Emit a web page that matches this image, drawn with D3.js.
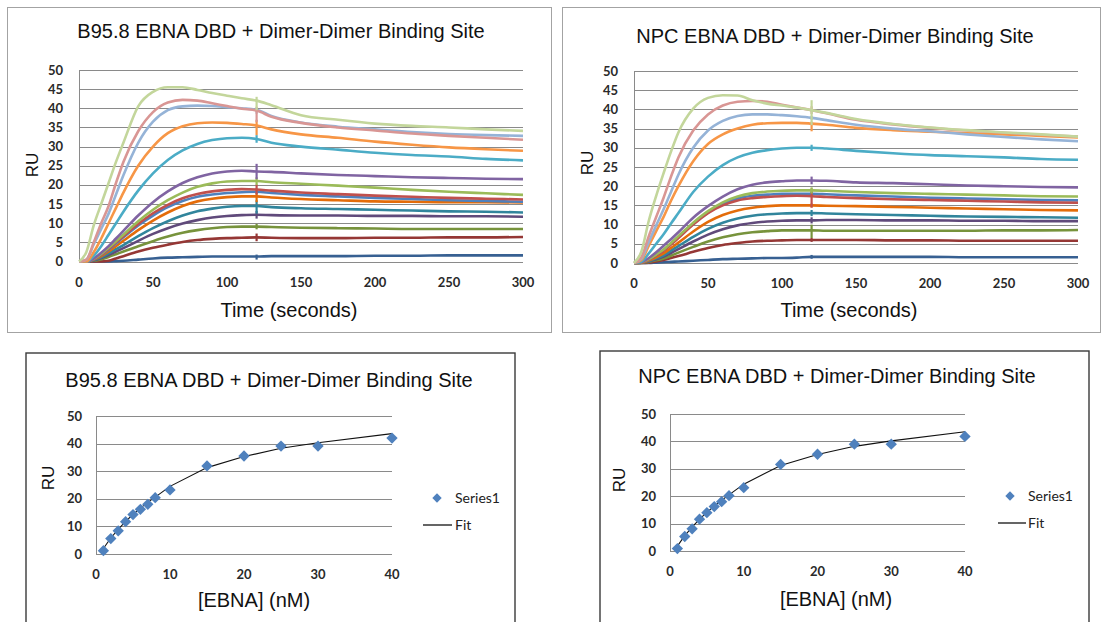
<!DOCTYPE html>
<html>
<head>
<meta charset="utf-8">
<script src="https://cdn.jsdelivr.net/npm/d3@7"></script>
<style>
  body { margin: 0; background: #fff; }
  svg { display: block; }
  .tick-label { font-family: Lato, "Open Sans", sans-serif; font-size: 13px; font-weight: bold; fill: #2a2a2a; }
  .title, .axis-label { font-family: "Liberation Sans", Arial, sans-serif; font-size: 20px; fill: #111; }
  .ru-label { font-family: "Liberation Sans", Arial, sans-serif; font-size: 17px; fill: #111; }
  .legend-text { font-family: Lato, "Open Sans", sans-serif; font-size: 14px; fill: #222; }
</style>
</head>
<body>
<svg id="chart" width="1104" height="622"></svg>
<script>
//data - sensorgram time points (seconds)
const times = [0, 5, 10, 15, 20, 25, 30, 40, 50, 60, 70, 80, 90, 100, 110, 120, 130, 150, 175, 200, 225, 250, 275, 300];

//series colours, lowest curve first
const seriesColors = ["#376092", "#953735", "#77933C", "#604A7B", "#31859C", "#E46C0A",
                      "#4F81BD", "#C0504D", "#9BBB59", "#8064A2", "#4BACC6", "#F79646",
                      "#95B3D7", "#D99694", "#C3D69B"];

//B95.8 RU values at each time point (same order as colours)
const b958Series = [
  [0, 0, 0, 0, 0, 0.1, 0.2, 0.5, 0.8, 1, 1.1, 1.2, 1.3, 1.3, 1.3, 1.3, 1.4, 1.4, 1.4, 1.5, 1.5, 1.6, 1.6, 1.6],
  [0, 0, 0, 0, 0.2, 0.8, 1.4, 2.6, 3.6, 4.4, 5.1, 5.6, 5.9, 6.1, 6.2, 6.3, 6.2, 6.1, 6.1, 6.2, 6.2, 6.3, 6.3, 6.4],
  [0, 0, 0.2, 0.6, 1.2, 1.9, 2.6, 4, 5.3, 6.5, 7.5, 8.2, 8.7, 9, 9.1, 9.1, 9, 8.8, 8.7, 8.6, 8.5, 8.5, 8.5, 8.5],
  [0, 0, 0.3, 0.9, 1.7, 2.6, 3.5, 5.4, 7.2, 8.7, 9.9, 10.8, 11.5, 11.9, 12.1, 12.2, 12.1, 12, 12, 11.9, 11.9, 11.8, 11.8, 11.7],
  [0, 0, 0.4, 1.1, 2.1, 3.2, 4.3, 6.6, 8.7, 10.5, 12, 13.1, 13.8, 14.3, 14.5, 14.5, 14.2, 13.9, 13.7, 13.5, 13.3, 13.1, 13, 12.8],
  [0, 0, 0.5, 1.4, 2.6, 4, 5.4, 8.2, 10.7, 12.8, 14.5, 15.7, 16.4, 16.8, 17, 17, 16.7, 16.3, 16, 15.7, 15.6, 15.5, 15.5, 15.4],
  [0, 0, 0.6, 1.7, 3.1, 4.7, 6.3, 9.4, 12, 14.2, 15.8, 16.9, 17.5, 17.9, 18.1, 18.2, 17.9, 17.4, 17, 16.6, 16.3, 16, 15.8, 15.6],
  [0, 0, 0.6, 1.8, 3.3, 5, 6.6, 9.8, 12.6, 14.8, 16.5, 17.6, 18.3, 18.7, 18.9, 18.8, 18.5, 18, 17.6, 17.2, 16.9, 16.6, 16.4, 16.2],
  [0, 0, 0.7, 2, 3.6, 5.3, 7, 10.5, 13.5, 16, 18, 19.5, 20.4, 20.9, 21, 21, 20.7, 20.3, 19.8, 19.3, 18.7, 18.2, 17.8, 17.4],
  [0, 0, 0.8, 2.3, 4, 6, 8, 12, 15.5, 18.3, 20.5, 22, 23, 23.5, 23.7, 23.5, 23.4, 23, 22.6, 22.3, 22, 21.8, 21.6, 21.5],
  [0, 0, 1.5, 4, 7, 10, 13, 18.5, 23, 26.5, 29, 30.7, 31.7, 32.2, 32.3, 32, 31, 30, 29.2, 28.4, 27.8, 27.4, 26.8, 26.4],
  [0, 0, 2.5, 6, 10, 14, 18, 25, 30, 33.5, 35.3, 36.1, 36.3, 36.2, 35.9, 35.5, 34.5, 33.2, 32.3, 31.3, 30.5, 29.8, 29.3, 28.9],
  [0, 0.5, 4.5, 8.5, 12.5, 17.5, 22.5, 31, 36.5, 39.5, 40.5, 40.7, 40.6, 40.3, 40, 39.6, 38, 36.3, 35.2, 34.5, 33.8, 33.3, 33, 32.8],
  [0, 0.5, 5, 10, 14.5, 20.5, 26, 34, 39, 41.5, 42.2, 42, 41.3, 40.6, 39.9, 39.4, 37.8, 36.2, 35, 34.2, 33.4, 32.8, 32.3, 31.8],
  [0, 2.5, 9.5, 15, 20.5, 26, 31, 40.5, 44.3, 45.5, 45.5, 44.8, 44, 43.3, 42.6, 42, 40.8, 38.2, 37, 36, 35.4, 35, 34.5, 34.1]
];
//injection-end spike at 120 s: [up, down] in RU
const b958Spikes = [[0.5, 0.8], [1, 1], [0.7, 0.7], [1, 1], [1.5, 2], [1, 1.5], [0.5, 0.5], [1.3, 1.3],
                    [1, 1], [2, 2], [1, 1], [1.5, 2.5], [0.5, 1], [1, 3], [1, 2.5]];

//NPC RU values at each time point
const npcSeries = [
  [0, 0, 0, 0.1, 0.2, 0.3, 0.4, 0.6, 0.8, 1, 1.1, 1.2, 1.3, 1.3, 1.4, 1.6, 1.6, 1.6, 1.6, 1.6, 1.5, 1.5, 1.5, 1.5],
  [0, 0, 0.1, 0.4, 0.8, 1.3, 1.8, 2.9, 3.9, 4.7, 5.2, 5.6, 5.8, 5.9, 6, 6, 6, 6, 5.9, 5.9, 5.8, 5.8, 5.8, 5.8],
  [0, 0, 0.3, 0.7, 1.2, 1.9, 2.7, 4.2, 5.6, 6.7, 7.5, 8, 8.3, 8.5, 8.5, 8.5, 8.4, 8.4, 8.4, 8.4, 8.4, 8.5, 8.5, 8.6],
  [0, 0.1, 0.4, 1, 1.7, 2.6, 3.6, 5.6, 7.4, 8.8, 9.8, 10.4, 10.8, 11, 11.1, 11.1, 11.2, 11.2, 11.1, 11.1, 11, 11, 10.9, 10.9],
  [0, 0.1, 0.5, 1.2, 2, 3.2, 4.4, 6.8, 8.9, 10.5, 11.6, 12.3, 12.7, 12.9, 13, 13, 12.9, 12.7, 12.5, 12.3, 12.1, 12, 11.9, 11.8],
  [0, 0.1, 0.7, 1.5, 2.5, 3.9, 5.3, 8.2, 10.7, 12.5, 13.7, 14.4, 14.8, 15, 15, 15, 14.9, 14.8, 14.6, 14.4, 14.2, 14, 13.8, 13.7],
  [0, 0.2, 0.9, 2, 3.3, 5, 6.7, 10.2, 13.2, 15.4, 16.8, 17.5, 17.8, 18, 18, 18, 17.9, 17.6, 17.3, 17, 16.8, 16.6, 16.4, 16.3],
  [0, 0.2, 0.9, 2, 3.2, 4.8, 6.5, 10, 13, 15, 16.3, 16.9, 17.2, 17.4, 17.5, 17.4, 17.2, 16.9, 16.6, 16.4, 16.2, 16, 15.8, 15.7],
  [0, 0.2, 1, 2.2, 3.5, 5.2, 7, 10.5, 13.5, 15.8, 17.3, 18.2, 18.6, 18.8, 18.9, 18.9, 18.8, 18.5, 18.2, 18, 17.8, 17.6, 17.4, 17.3],
  [0, 0.2, 1.3, 2.8, 4.5, 6.2, 8, 11.8, 14.8, 17.3, 19.2, 20.4, 21, 21.3, 21.5, 21.5, 21.4, 21, 20.8, 20.5, 20.2, 20, 19.8, 19.7],
  [0, 0.4, 2.5, 5, 7.5, 10.3, 13, 18.5, 22.5, 25.5, 27.5, 28.7, 29.4, 29.8, 30, 30, 29.8, 29.2, 28.6, 28.1, 27.8, 27.5, 27.1, 26.9],
  [0, 0.8, 4.5, 8.3, 12, 16.2, 20, 26.5, 31, 33.5, 35, 36, 36.4, 36.5, 36.5, 36.3, 36, 35.2, 34.6, 34.2, 33.8, 33.5, 33.1, 32.7],
  [0, 1.2, 5.5, 9.8, 14, 18.5, 23, 30, 34.5, 37, 38.3, 38.7, 38.7, 38.5, 38.2, 37.8, 37.2, 36, 35, 34.3, 33.5, 32.8, 32.2, 31.7],
  [0, 1.5, 7, 12, 17, 22.5, 27.5, 34.5, 38.7, 41, 42, 42.2, 42, 41.2, 40.5, 39.8, 39, 37.3, 36.1, 35.2, 34.5, 33.9, 33.4, 32.9],
  [0, 3, 11, 17.5, 23.4, 29, 34, 40.2, 43, 43.7, 43.6, 42.4, 41.5, 41, 40.5, 39.8, 39.1, 37.5, 36.2, 35.3, 34.6, 34, 33.5, 32.9]
];
const npcSpikes = [[0.5, 0.5], [0.5, 0.5], [1.5, 2], [0.8, 0.8], [0.8, 0.8], [0.5, 0.5], [0.5, 0.5], [2, 3],
                   [0.8, 0.8], [1, 1], [0.8, 0.8], [0.5, 2], [0.5, 0.5], [1, 1], [2.6, 3.9]];

//binding isotherm data
const conc = [1, 2, 3, 4, 5, 6, 7, 8, 10, 15, 20, 25, 30, 40];
const b958RU = [1.2, 5.6, 8.4, 11.7, 14.3, 16.2, 18, 20.4, 23.2, 31.9, 35.5, 39.1, 39.1, 42];
const b958Fit = [2, 5.8, 8.9, 11.8, 14.3, 16.6, 18.7, 20.6, 24.5, 31.3, 35.3, 38.3, 40.3, 43.6];
const npcRU = [0.9, 5.3, 8.1, 11.6, 14, 16.2, 18, 20.2, 23.1, 31.6, 35.3, 39, 39, 41.8];
const npcFit = [1.8, 5.6, 8.7, 11.6, 14.1, 16.4, 18.5, 20.5, 24.4, 31.2, 35.2, 38.2, 40.2, 43.5];

//tick labels
const timeTicks = [0, 50, 100, 150, 200, 250, 300];
const sensorRUTicks = [0, 5, 10, 15, 20, 25, 30, 35, 40, 45, 50];
const concTicks = [0, 10, 20, 30, 40];
const bindRUTicks = [0, 10, 20, 30, 40, 50];

const svg = d3.select("#chart");

//draws a panel border
function frame(box, color, width) {
  svg.append("rect")
    .attr("x", box.x).attr("y", box.y)
    .attr("width", box.w).attr("height", box.h)
    .attr("fill", "#fff")
    .attr("stroke", color)
    .attr("stroke-width", width);
}

//gridlines, axis line and tick labels
function axes(g, xScale, yScale, xTicks, yTicks, yGap, xGap) {
  g.selectAll(".grid")
    .data(yTicks)
    .enter().append("line")
    .attr("class", "grid")
    .attr("x1", xScale.range()[0]).attr("x2", xScale.range()[1])
    .attr("y1", d => Math.round(yScale(d)) + 0.5)
    .attr("y2", d => Math.round(yScale(d)) + 0.5)
    .attr("stroke", "#8a8a8a").attr("stroke-width", 1);

  g.append("line")
    .attr("x1", Math.round(xScale.range()[0]) + 0.5).attr("x2", Math.round(xScale.range()[0]) + 0.5)
    .attr("y1", yScale.range()[0]).attr("y2", yScale.range()[1])
    .attr("stroke", "#8a8a8a").attr("stroke-width", 1);

  g.selectAll(".ylab")
    .data(yTicks)
    .enter().append("text")
    .attr("class", "tick-label")
    .attr("x", xScale.range()[0] - yGap)
    .attr("y", d => yScale(d) + 4.5)
    .attr("text-anchor", "end")
    .text(d => d);

  g.selectAll(".xlab")
    .data(xTicks)
    .enter().append("text")
    .attr("class", "tick-label")
    .attr("x", d => xScale(d))
    .attr("y", yScale.range()[0] + xGap)
    .attr("text-anchor", "middle")
    .text(d => d);
}

function labels(p) {
  svg.append("text").attr("class", "title")
    .attr("x", p.titleX).attr("y", p.titleY)
    .attr("text-anchor", "middle")
    .text(p.title);
  svg.append("text").attr("class", "axis-label")
    .attr("x", p.xLabelX).attr("y", p.xLabelY)
    .attr("text-anchor", "middle")
    .text(p.xLabel);
  svg.append("text").attr("class", "ru-label")
    .attr("transform", "translate(" + p.ruX + "," + p.ruY + ") rotate(-90)")
    .attr("text-anchor", "middle")
    .text("RU");
}

//sensorgram panel
function sensorgram(p, series, spikes) {
  frame(p.box, "#a3a3a3", 1);
  labels(p);

  const x = d3.scaleLinear().domain([0, 300]).range([p.left, p.right]);
  const y = d3.scaleLinear().domain([0, 50]).range([p.bottom, p.top]);

  const g = svg.append("g");
  axes(g, x, y, timeTicks, sensorRUTicks, 16, 25);

  const line = d3.line()
    .x(d => x(d[0]))
    .y(d => y(d[1]))
    .curve(d3.curveMonotoneX);

  const i120 = times.indexOf(120);

  series.forEach((vals, i) => {
    const pts = times.map((t, j) => [t, vals[j]]);
    g.append("path")
      .attr("d", line(pts))
      .attr("fill", "none")
      .attr("stroke", seriesColors[i])
      .attr("stroke-width", 2.6)
      .attr("stroke-linejoin", "round");

    //spike at end of injection
    g.append("line")
      .attr("x1", x(120)).attr("x2", x(120))
      .attr("y1", y(vals[i120] + spikes[i][0]))
      .attr("y2", y(vals[i120] - spikes[i][1]))
      .attr("stroke", seriesColors[i])
      .attr("stroke-width", 2.2);
  });
}

//binding isotherm panel
function isotherm(p, ru, fit) {
  frame(p.box, "#3a3a3a", 1.4);
  labels(p);

  const x = d3.scaleLinear().domain([0, 40]).range([p.left, p.right]);
  const y = d3.scaleLinear().domain([0, 50]).range([p.bottom, p.top]);

  const g = svg.append("g");
  axes(g, x, y, concTicks, bindRUTicks, 14, 25);

  g.append("path")
    .datum(conc.map((c, i) => [c, fit[i]]))
    .attr("d", d3.line().x(d => x(d[0])).y(d => y(d[1])))
    .attr("fill", "none")
    .attr("stroke", "#111")
    .attr("stroke-width", 1.1);

  const diamond = d3.symbol().type(d3.symbolSquare).size(64);
  g.selectAll(".pt")
    .data(conc.map((c, i) => [c, ru[i]]))
    .enter().append("path")
    .attr("d", diamond)
    .attr("transform", d => "translate(" + x(d[0]) + "," + y(d[1]) + ") rotate(45)")
    .attr("fill", "#4F81BD");

  //legend
  g.append("path")
    .attr("d", d3.symbol().type(d3.symbolSquare).size(44))
    .attr("transform", "translate(" + p.legX + "," + p.legY + ") rotate(45)")
    .attr("fill", "#4F81BD");
  g.append("text").attr("class", "legend-text")
    .attr("x", p.legTextX).attr("y", p.legY + 5)
    .text("Series1");
  g.append("line")
    .attr("x1", p.fitX1).attr("x2", p.fitX2)
    .attr("y1", p.legY + 27).attr("y2", p.legY + 27)
    .attr("stroke", "#111").attr("stroke-width", 1.3);
  g.append("text").attr("class", "legend-text")
    .attr("x", p.legTextX).attr("y", p.legY + 32)
    .text("Fit");
}

sensorgram({
  box: {x: 7.5, y: 7.5, w: 544, h: 325},
  left: 79, right: 523, top: 70, bottom: 261.5,
  title: "B95.8 EBNA DBD + Dimer-Dimer Binding Site", titleX: 281, titleY: 38,
  xLabel: "Time (seconds)", xLabelX: 289, xLabelY: 317,
  ruX: 38, ruY: 165
}, b958Series, b958Spikes);

sensorgram({
  box: {x: 562.5, y: 7.5, w: 538, h: 325},
  left: 634, right: 1078, top: 71, bottom: 263,
  title: "NPC EBNA DBD + Dimer-Dimer Binding Site", titleX: 835, titleY: 43,
  xLabel: "Time (seconds)", xLabelX: 849, xLabelY: 317,
  ruX: 593, ruY: 163
}, npcSeries, npcSpikes);

isotherm({
  box: {x: 26, y: 353, w: 489, h: 275},
  left: 96, right: 392, top: 416, bottom: 554,
  title: "B95.8 EBNA DBD + Dimer-Dimer Binding Site", titleX: 269, titleY: 387,
  xLabel: "[EBNA] (nM)", xLabelX: 254, xLabelY: 607,
  ruX: 54, ruY: 478,
  legX: 437, legY: 498, legTextX: 455, fitX1: 423, fitX2: 452
}, b958RU, b958Fit);

isotherm({
  box: {x: 600, y: 351, w: 489, h: 277},
  left: 670, right: 965, top: 414, bottom: 551,
  title: "NPC EBNA DBD + Dimer-Dimer Binding Site", titleX: 837, titleY: 383,
  xLabel: "[EBNA] (nM)", xLabelX: 836, xLabelY: 606,
  ruX: 625, ruY: 480,
  legX: 1010, legY: 496, legTextX: 1028, fitX1: 998, fitX2: 1026
}, npcRU, npcFit);
</script>
</body>
</html>
